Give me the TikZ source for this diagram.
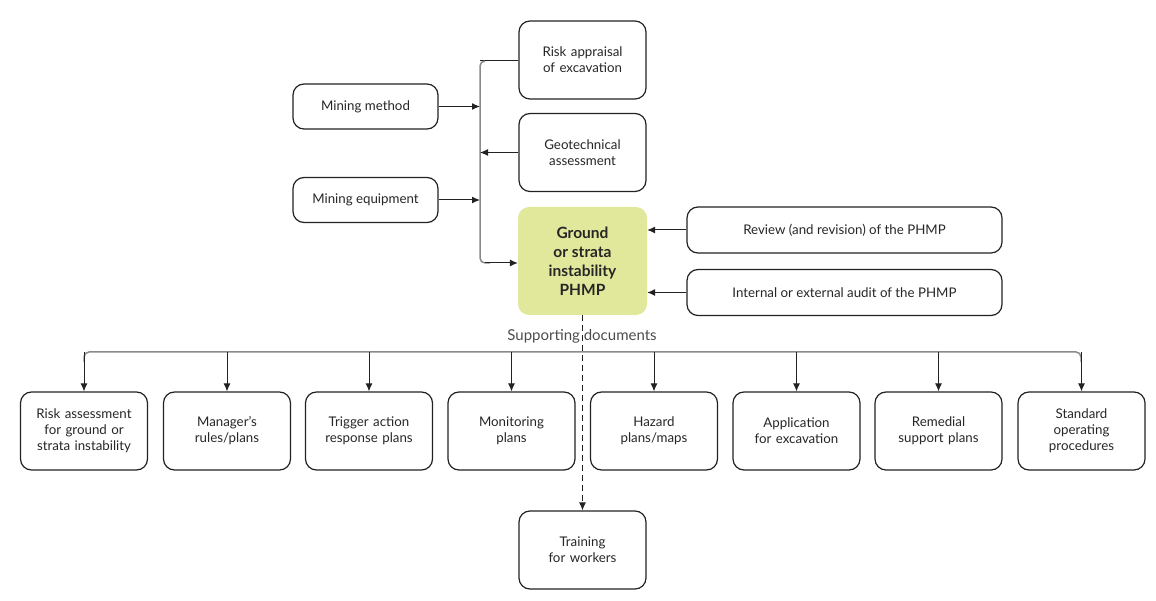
\documentclass[tikz,border=0pt]{standalone}
\usepackage{fontspec}
\setmainfont{Lato}
\usetikzlibrary{arrows.meta}
\definecolor{boxline}{HTML}{222222}
\definecolor{greenfill}{HTML}{E2E89B}
\definecolor{busgray}{HTML}{8A8A8A}
\begin{document}
\begin{tikzpicture}[x=1pt,y=-1pt,
  box/.style={draw=boxline, line width=1.2pt, rounded corners=11pt, align=center,
     inner sep=0pt, font=\fontsize{13.3}{16}\selectfont, text=black!85},
  smallbox/.style={box, minimum width=127pt, minimum height=78pt, text width=124pt},
  sidebox/.style={box, minimum width=145pt, minimum height=45pt},
  widebox/.style={box, minimum width=315pt, minimum height=46pt},
  mainbox/.style={fill=greenfill, rounded corners=11pt, minimum width=129pt, minimum height=108pt,
     align=center, inner sep=0pt, font=\fontsize{15.5}{19}\selectfont\bfseries, text=black!85},
  arr/.style={-{Latex[length=8pt,width=7pt]}, line width=1pt, draw=boxline},
  grayline/.style={line width=1.5pt, draw=busgray, rounded corners=5pt}
]
\useasboundingbox (0,0) rectangle (1156,601);

\node[smallbox] (risk) at (582.5,60) {Risk appraisal\\of excavation};
\node[smallbox] (geo) at (582.5,152.5) {Geotechnical\\assessment};
\node[mainbox] (main) at (582.5,261) {Ground\\or strata\\instability\\PHMP};
\node[sidebox] (method) at (365.5,106.5) {Mining method};
\node[sidebox] (equip) at (365.5,200) {Mining equipment};
\node[widebox] (review) at (844.5,230) {Review (and revision) of the PHMP};
\node[widebox] (audit) at (844.5,292.5) {Internal or external audit of the PHMP};

\node[smallbox] (b1) at (84,431) {Risk assessment\\for ground or\\strata instability};
\node[smallbox] (b2) at (227,431) {Manager's\\rules/plans};
\node[smallbox] (b3) at (369,431) {Trigger action\\response plans};
\node[smallbox] (b4) at (511.5,431) {Monitoring\\plans};
\node[smallbox] (b5) at (654,431) {Hazard\\plans/maps};
\node[smallbox] (b6) at (796.5,431) {Application\\for excavation};
\node[smallbox] (b7) at (938.5,431) {Remedial\\support plans};
\node[smallbox] (b8) at (1081.5,431) {Standard\\operating\\procedures};
\node[smallbox] (train) at (582.5,550) {Training\\for workers};

\node[font=\fontsize{15}{17}\selectfont, text=black!70] (supp) at (582,336) {Supporting documents};

% bracket on the left
\coordinate (btop) at (480,61);
\coordinate (bbot) at (480,263);
\draw[line width=1pt, draw=boxline] (risk.west |- btop) -- (btop);
\draw[grayline] (485,61) -| (bbot) -- (490,263);
\draw[arr] (485,263) -- (main.west |- bbot);
\draw[arr] (method.east) -- (method.east -| btop);
\draw[arr] (equip.east) -- (equip.east -| btop);
\draw[arr] (geo.west) -- (geo.west -| btop);

% right side
\draw[arr] (review.west) -- (review.west -| main.east);
\draw[arr] (audit.west) -- (audit.west -| main.east);

% bus
\coordinate (busl) at (84,352);
\coordinate (busr) at (1081,352);
\draw[grayline] (84,362) |- (busr) -- (1081,362);
\foreach \b/\x in {b1/84,b2/227,b3/369,b4/511.5,b5/654,b6/796.5,b7/938.5,b8/1081.5}{
  \draw[arr] (\x,352) -- (\b.north);
}

% dashed
\draw[arr, dash pattern=on 6pt off 4pt] (main.south) -- (train.north);
\end{tikzpicture}
\end{document}
